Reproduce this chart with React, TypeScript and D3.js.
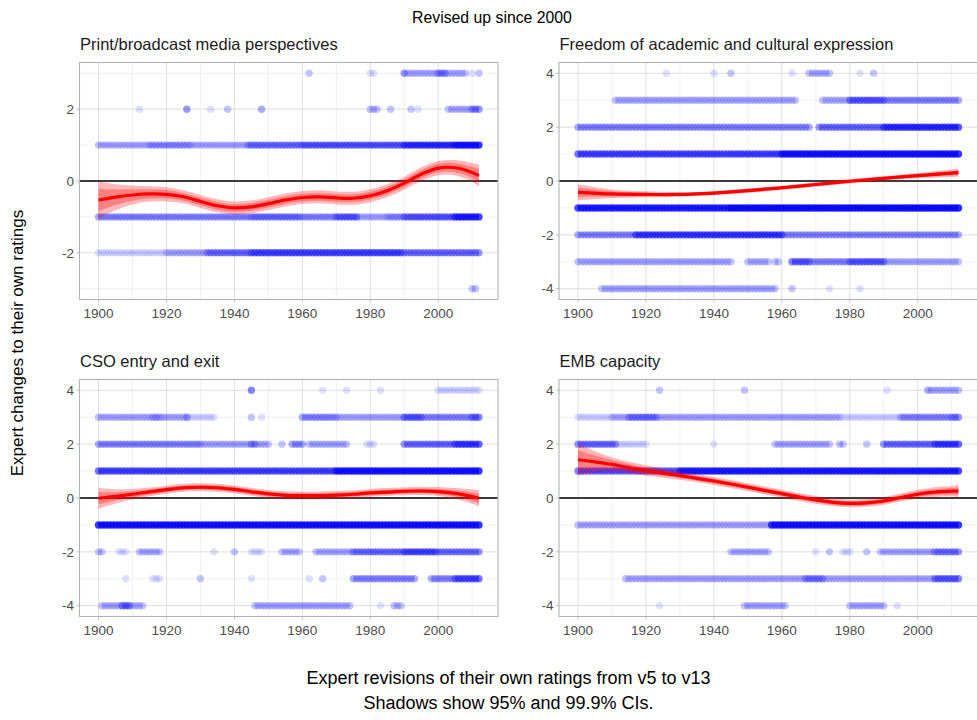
import React from "react";
import * as d3 from "d3";

// Year span of the expert data
const YEAR_MIN = 1900;
const YEAR_MAX = 2012;

const chartTitle = "Revised up since 2000";
const yAxisTitle = "Expert changes to their own ratings";
const captionLines = [
  "Expert revisions of their own ratings from v5 to v13",
  "Shadows show 95% and 99.9% CIs.",
];

const panelTitles = [
  "Print/broadcast media perspectives",
  "Freedom of academic and cultural expression",
  "CSO entry and exit",
  "EMB capacity",
];

const xTicks = [1900, 1920, 1940, 1960, 1980, 2000];
const yTicksSmall = [-2, 0, 2];
const yTicksLarge = [-4, -2, 0, 2, 4];

// Observed revisions: [revision, fromYear, toYear, number of experts per year]
const printRuns: [number, number, number, number][] = [
  [3, 1962, 1962, 2], [3, 1980, 1981, 1], [3, 1990, 1990, 4], [3, 1991, 1999, 2],
  [3, 2000, 2002, 4], [3, 2003, 2008, 2], [3, 2010, 2010, 1], [3, 2012, 2012, 2],
  [2, 1912, 1912, 1], [2, 1926, 1926, 4], [2, 1933, 1933, 1], [2, 1938, 1938, 2],
  [2, 1948, 1948, 3], [2, 1980, 1982, 2], [2, 1986, 1986, 2], [2, 1992, 1992, 2],
  [2, 1994, 1994, 1], [2, 2003, 2009, 2], [2, 2010, 2012, 4],
  [1, 1900, 1914, 2], [1, 1915, 1927, 3], [1, 1928, 1943, 2], [1, 1944, 1959, 4],
  [1, 1960, 1989, 5], [1, 1990, 2004, 8], [1, 2005, 2012, 12],
  [-1, 1900, 1944, 3], [-1, 1945, 1959, 4], [-1, 1960, 1969, 3], [-1, 1970, 1976, 5],
  [-1, 1977, 1984, 2], [-1, 1985, 1989, 3], [-1, 1990, 2004, 5], [-1, 2005, 2012, 10],
  [-2, 1900, 1919, 1], [-2, 1920, 1931, 2], [-2, 1932, 1944, 4], [-2, 1945, 1989, 6],
  [-2, 1990, 2012, 4],
  [-3, 2010, 2011, 2],
];

const academicRuns: [number, number, number, number][] = [
  [4, 1926, 1926, 1], [4, 1940, 1940, 1], [4, 1945, 1945, 2], [4, 1963, 1963, 1],
  [4, 1968, 1974, 2], [4, 1983, 1983, 1], [4, 1987, 1987, 2],
  [3, 1911, 1964, 2], [3, 1972, 1979, 2], [3, 1980, 1990, 5], [3, 1991, 2012, 3],
  [2, 1900, 1968, 3], [2, 1971, 1989, 4], [2, 1990, 2012, 8],
  [1, 1900, 1959, 6], [1, 1960, 2012, 12],
  [-1, 1900, 1944, 10], [-1, 1945, 2012, 14],
  [-2, 1900, 1916, 3], [-2, 1917, 1960, 7], [-2, 1961, 2012, 3],
  [-3, 1900, 1945, 2], [-3, 1950, 1956, 2], [-3, 1958, 1959, 2], [-3, 1963, 1968, 5],
  [-3, 1969, 1979, 3], [-3, 1980, 1990, 5], [-3, 1991, 2012, 2],
  [-4, 1907, 1958, 2], [-4, 1963, 1963, 2], [-4, 1974, 1974, 1], [-4, 1983, 1983, 1],
];

const csoRuns: [number, number, number, number][] = [
  [4, 1945, 1945, 5], [4, 1966, 1966, 1], [4, 1973, 1973, 1], [4, 1983, 1983, 1],
  [4, 2000, 2012, 1],
  [3, 1900, 1915, 2], [3, 1916, 1918, 3], [3, 1919, 1925, 2], [3, 1926, 1926, 4],
  [3, 1927, 1934, 1], [3, 1945, 1945, 2], [3, 1948, 1948, 1], [3, 1960, 1970, 3],
  [3, 1971, 1989, 2], [3, 1990, 1995, 5], [3, 1996, 2009, 3], [3, 2010, 2012, 5],
  [2, 1900, 1930, 3], [2, 1931, 1944, 2], [2, 1945, 1946, 4], [2, 1947, 1950, 2],
  [2, 1954, 1954, 2], [2, 1957, 1960, 3], [2, 1962, 1973, 2], [2, 1979, 1981, 1],
  [2, 1990, 2004, 4], [2, 2005, 2012, 7],
  [1, 1900, 1969, 6], [1, 1970, 2012, 12],
  [-1, 1900, 2012, 12],
  [-2, 1900, 1901, 2], [-2, 1906, 1908, 1], [-2, 1912, 1918, 2], [-2, 1934, 1934, 1],
  [-2, 1940, 1940, 2], [-2, 1945, 1948, 1], [-2, 1954, 1959, 2], [-2, 1964, 1974, 2],
  [-2, 1975, 1989, 4], [-2, 1990, 1999, 6], [-2, 2000, 2012, 4],
  [-3, 1908, 1908, 1], [-3, 1916, 1918, 1], [-3, 1930, 1930, 2], [-3, 1945, 1945, 1],
  [-3, 1962, 1962, 1], [-3, 1966, 1966, 2], [-3, 1975, 1993, 3], [-3, 1998, 2004, 3],
  [-3, 2005, 2012, 6],
  [-4, 1901, 1906, 2], [-4, 1907, 1909, 5], [-4, 1910, 1913, 2], [-4, 1946, 1974, 2],
  [-4, 1983, 1983, 1], [-4, 1987, 1989, 2],
];

const embRuns: [number, number, number, number][] = [
  [4, 1924, 1924, 2], [4, 1949, 1949, 2], [4, 1991, 1991, 1], [4, 2003, 2003, 3],
  [4, 2004, 2012, 2],
  [3, 1900, 1909, 1], [3, 1910, 1914, 2], [3, 1915, 1923, 4], [3, 1924, 1977, 2],
  [3, 1978, 1994, 1], [3, 1995, 2009, 3], [3, 2010, 2012, 4],
  [2, 1900, 1911, 4], [2, 1912, 1920, 1], [2, 1940, 1940, 1], [2, 1958, 1974, 2],
  [2, 1977, 1978, 2], [2, 1985, 1985, 2], [2, 1990, 2004, 4], [2, 2005, 2012, 7],
  [1, 1900, 1929, 5], [1, 1930, 2012, 10],
  [-1, 1900, 1956, 2], [-1, 1957, 2012, 12],
  [-2, 1945, 1956, 2], [-2, 1970, 1970, 1], [-2, 1974, 1974, 2], [-2, 1978, 1980, 1],
  [-2, 1985, 1985, 2], [-2, 1989, 2004, 2], [-2, 2005, 2012, 4],
  [-3, 1914, 1966, 2], [-3, 1967, 1972, 4], [-3, 1973, 2004, 2], [-3, 2005, 2012, 5],
  [-4, 1924, 1924, 1], [-4, 1949, 1961, 2], [-4, 1980, 1990, 2], [-4, 1994, 1994, 1],
];

// Smoothed mean revision and its standard error
const printFitYears = [1900, 1905, 1910, 1915, 1920, 1925, 1930, 1935, 1940, 1945, 1950, 1955, 1960, 1965, 1970, 1975, 1980, 1985, 1990, 1995, 2000, 2005, 2010, 2012];
const printFit = [-0.53, -0.45, -0.39, -0.36, -0.37, -0.44, -0.57, -0.69, -0.75, -0.72, -0.63, -0.53, -0.46, -0.44, -0.47, -0.48, -0.41, -0.27, -0.06, 0.19, 0.36, 0.37, 0.24, 0.15];
const printSe = [0.16, 0.11, 0.08, 0.065, 0.06, 0.055, 0.055, 0.055, 0.055, 0.055, 0.055, 0.055, 0.055, 0.055, 0.055, 0.055, 0.055, 0.055, 0.055, 0.058, 0.06, 0.065, 0.08, 0.095];

const academicFitYears = [1900, 1910, 1920, 1930, 1940, 1950, 1960, 1970, 1980, 1990, 2000, 2012];
const academicFit = [-0.42, -0.48, -0.5, -0.5, -0.45, -0.36, -0.25, -0.13, -0.01, 0.1, 0.2, 0.31];
const academicSe = [0.09, 0.05, 0.035, 0.025, 0.025, 0.025, 0.025, 0.025, 0.025, 0.025, 0.03, 0.045];

const csoFitYears = [1900, 1905, 1910, 1915, 1920, 1925, 1930, 1935, 1940, 1945, 1950, 1955, 1960, 1965, 1970, 1975, 1980, 1985, 1990, 1995, 2000, 2005, 2010, 2012];
const csoFit = [-0.01, 0.06, 0.14, 0.23, 0.31, 0.38, 0.4, 0.38, 0.32, 0.23, 0.15, 0.1, 0.09, 0.09, 0.11, 0.14, 0.19, 0.22, 0.25, 0.26, 0.24, 0.17, 0.05, -0.01];
const csoSe = [0.12, 0.08, 0.06, 0.05, 0.045, 0.045, 0.045, 0.045, 0.045, 0.045, 0.045, 0.045, 0.045, 0.045, 0.045, 0.045, 0.045, 0.045, 0.045, 0.045, 0.05, 0.06, 0.08, 0.09];

const embFitYears = [1900, 1905, 1910, 1915, 1920, 1925, 1930, 1935, 1940, 1945, 1950, 1955, 1960, 1965, 1970, 1975, 1980, 1985, 1990, 1995, 2000, 2005, 2010, 2012];
const embFit = [1.42, 1.34, 1.25, 1.13, 1.02, 0.92, 0.83, 0.73, 0.63, 0.52, 0.4, 0.28, 0.16, 0.04, -0.07, -0.16, -0.2, -0.18, -0.11, 0.02, 0.14, 0.22, 0.25, 0.26];
const embSe = [0.18, 0.12, 0.08, 0.065, 0.06, 0.05, 0.045, 0.045, 0.045, 0.045, 0.045, 0.045, 0.045, 0.045, 0.045, 0.045, 0.045, 0.045, 0.045, 0.045, 0.05, 0.055, 0.06, 0.07];

type Run = [number, number, number, number];

interface PanelSpec {
  title: string;
  runs: Run[];
  fitYears: number[];
  fit: number[];
  se: number[];
  yMax: number;
  yTicks: number[];
  yMinor: number[];
}

const panels: PanelSpec[] = [
  { title: panelTitles[0], runs: printRuns, fitYears: printFitYears, fit: printFit, se: printSe, yMax: 3, yTicks: yTicksSmall, yMinor: [-3, -1, 1, 3] },
  { title: panelTitles[1], runs: academicRuns, fitYears: academicFitYears, fit: academicFit, se: academicSe, yMax: 4, yTicks: yTicksLarge, yMinor: [-3, -1, 1, 3] },
  { title: panelTitles[2], runs: csoRuns, fitYears: csoFitYears, fit: csoFit, se: csoSe, yMax: 4, yTicks: yTicksLarge, yMinor: [-3, -1, 1, 3] },
  { title: panelTitles[3], runs: embRuns, fitYears: embFitYears, fit: embFit, se: embSe, yMax: 4, yTicks: yTicksLarge, yMinor: [-3, -1, 1, 3] },
];

const W = 977;
const H = 720;
const FONT = "'Liberation Sans', Arial, Helvetica, sans-serif";
const PANEL_W = 418.5;
const PANEL_H = 237;
const panelOrigins = [
  { x: 79.5, y: 62.5 },
  { x: 559, y: 62.5 },
  { x: 79.5, y: 379.5 },
  { x: 559, y: 379.5 },
];
const POINT_ALPHA = 0.12;
const Z95 = 1.96;
const Z999 = 3.29;

function Panel({ spec, ox, oy }: { spec: PanelSpec; ox: number; oy: number }) {
  const xPad = (YEAR_MAX - YEAR_MIN) * 0.05;
  const x = d3.scaleLinear().domain([YEAR_MIN - xPad, YEAR_MAX + xPad]).range([ox, ox + PANEL_W]);
  const yPad = spec.yMax * 2 * 0.05;
  const y = d3.scaleLinear().domain([-spec.yMax - yPad, spec.yMax + yPad]).range([oy + PANEL_H, oy]);

  const xMinor = d3.range(1910, 2011, 20);

  const pts: { year: number; level: number; n: number }[] = [];
  spec.runs.forEach(([level, from, to, n]) => {
    for (let yr = from; yr <= to; yr++) pts.push({ year: yr, level, n });
  });

  const rows = spec.fitYears.map((yr, i) => ({ yr, f: spec.fit[i], s: spec.se[i] }));
  const curve = d3.curveCatmullRom.alpha(0.5);
  const band = (z: number) =>
    d3.area<{ yr: number; f: number; s: number }>()
      .x((d) => x(d.yr))
      .y0((d) => y(d.f - z * d.s))
      .y1((d) => y(d.f + z * d.s))
      .curve(curve)(rows) || "";
  const line = d3.line<{ yr: number; f: number; s: number }>()
    .x((d) => x(d.yr))
    .y((d) => y(d.f))
    .curve(curve)(rows) || "";

  const clipId = `clip-${Math.round(ox)}-${Math.round(oy)}`;

  return (
    <g>
      <defs>
        <clipPath id={clipId}>
          <rect x={ox} y={oy} width={PANEL_W} height={PANEL_H} />
        </clipPath>
      </defs>
      <text x={ox + 0.5} y={oy - 13} fontSize={16.5} fill="#1a1a1a" fontFamily={FONT}>
        {spec.title}
      </text>
      {/* grid */}
      {xMinor.map((v) => (
        <line key={`xm${v}`} x1={x(v)} x2={x(v)} y1={oy} y2={oy + PANEL_H} stroke="#ececec" strokeWidth={0.8} />
      ))}
      {spec.yMinor.map((v) => (
        <line key={`ym${v}`} x1={ox} x2={ox + PANEL_W} y1={y(v)} y2={y(v)} stroke="#ececec" strokeWidth={0.8} />
      ))}
      {xTicks.map((v) => (
        <line key={`xg${v}`} x1={x(v)} x2={x(v)} y1={oy} y2={oy + PANEL_H} stroke="#dedede" strokeWidth={1} />
      ))}
      {spec.yTicks.map((v) => (
        <line key={`yg${v}`} x1={ox} x2={ox + PANEL_W} y1={y(v)} y2={y(v)} stroke="#dedede" strokeWidth={1} />
      ))}
      <g clipPath={`url(#${clipId})`}>
        {pts.map((p, i) => (
          <circle
            key={i}
            cx={x(p.year)}
            cy={y(p.level)}
            r={3.7}
            fill="#0000ff"
            fillOpacity={1 - Math.pow(1 - POINT_ALPHA, p.n)}
          />
        ))}
        <line x1={ox} x2={ox + PANEL_W} y1={y(0)} y2={y(0)} stroke="#000" strokeWidth={1.3} />
        <path d={band(Z999)} fill="#ff0000" fillOpacity={0.28} />
        <path d={band(Z95)} fill="#ff0000" fillOpacity={0.3} />
        <path d={line} fill="none" stroke="#ff0000" strokeWidth={3.2} />
      </g>
      {/* panel border */}
      <rect x={ox} y={oy} width={PANEL_W} height={PANEL_H} fill="none" stroke="#b3b3b3" strokeWidth={1.1} />
      {/* axes */}
      {xTicks.map((v) => (
        <g key={`xt${v}`}>
          <line x1={x(v)} x2={x(v)} y1={oy + PANEL_H} y2={oy + PANEL_H + 3} stroke="#b3b3b3" strokeWidth={0.8} />
          <text x={x(v)} y={oy + PANEL_H + 18} textAnchor="middle" fontSize={13.5} fill="#4d4d4d" fontFamily={FONT}>
            {v}
          </text>
        </g>
      ))}
      {spec.yTicks.map((v) => (
        <g key={`yt${v}`}>
          <line x1={ox - 3} x2={ox} y1={y(v)} y2={y(v)} stroke="#b3b3b3" strokeWidth={0.8} />
          <text x={ox - 5.5} y={y(v)} dy="0.35em" textAnchor="end" fontSize={13.5} fill="#4d4d4d" fontFamily={FONT}>
            {v}
          </text>
        </g>
      ))}
    </g>
  );
}

export default function App() {
  return (
    <svg
      width={W}
      height={H}
      viewBox={`0 0 ${W} ${H}`}
      style={{ position: "absolute", left: 0, top: 0, background: "#fff" }}
    >
      <rect x={0} y={0} width={W} height={H} fill="#fff" />
      <text x={492} y={23} textAnchor="middle" fontSize={15.8} fill="#000" fontFamily={FONT}>
        {chartTitle}
      </text>
      <text
        transform={`translate(23, 343) rotate(-90)`}
        textAnchor="middle"
        fontSize={17}
        fill="#000"
        fontFamily={FONT}
      >
        {yAxisTitle}
      </text>
      {panels.map((p, i) => (
        <Panel key={p.title} spec={p} ox={panelOrigins[i].x} oy={panelOrigins[i].y} />
      ))}
      <text x={508.5} y={684} textAnchor="middle" fontSize={18} fill="#000" fontFamily={FONT}>
        {captionLines[0]}
      </text>
      <text x={508.5} y={709} textAnchor="middle" fontSize={18} fill="#000" fontFamily={FONT}>
        {captionLines[1]}
      </text>
    </svg>
  );
}
